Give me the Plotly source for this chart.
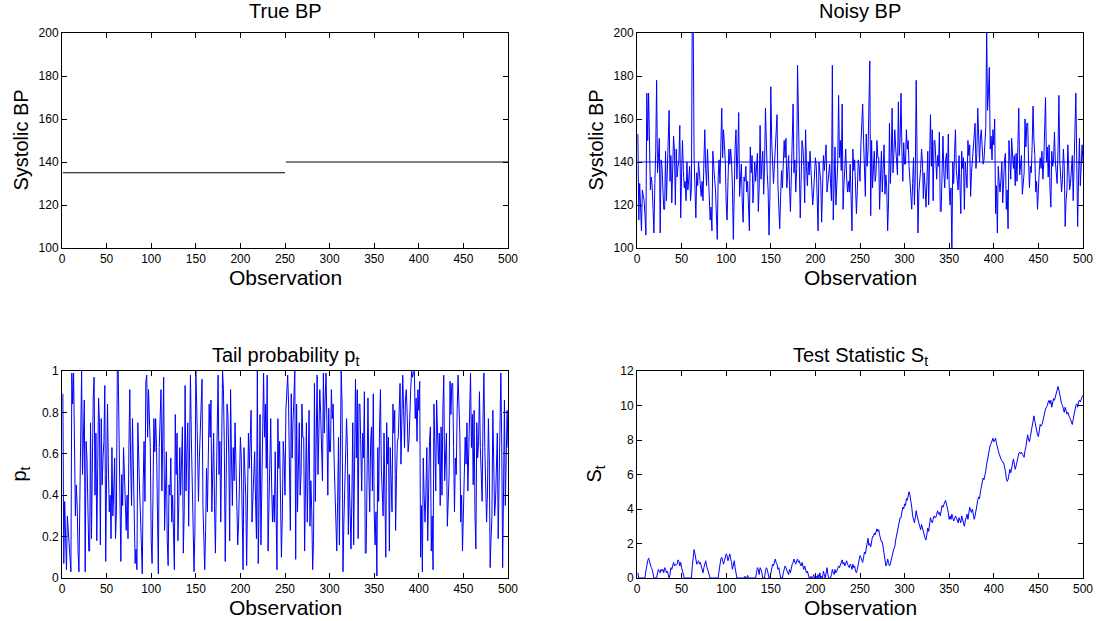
import plotly.graph_objects as go

# ---------------- data ----------------
obs = list(range(1, 501))

# true systolic BP: level before and after the change point
change_point = 250
level_before = 135
level_after = 140

# reference level drawn over the noisy readings
ref_level = 140

noisy_bp = [
    153, 113, 130, 119, 108, 127, 124, 122, 115, 106,
    172, 150, 172, 134, 127, 133, 129, 118, 107, 130,
    145, 178, 135, 142, 151, 107, 141, 138, 129, 118,
    118, 145, 122, 140, 152, 164, 131, 143, 121, 136,
    152, 145, 120, 146, 133, 138, 141, 157, 114, 135,
    150, 136, 128, 131, 122, 140, 127, 132, 138, 122,
    128, 213, 206, 142, 126, 114, 135, 129, 140, 133,
    127, 124, 131, 122, 140, 155, 137, 129, 146, 134,
    126, 113, 119, 108, 145, 136, 132, 127, 118, 104,
    133, 141, 130, 160, 165, 142, 155, 148, 140, 121,
    113, 131, 146, 139, 146, 140, 128, 104, 140, 147,
    155, 132, 144, 163, 124, 130, 139, 121, 112, 133,
    131, 138, 126, 131, 119, 108, 147, 135, 143, 121,
    130, 140, 131, 137, 144, 117, 128, 157, 132, 139,
    145, 125, 138, 165, 142, 135, 127, 106, 124, 175,
    150, 141, 130, 138, 145, 151, 162, 129, 118, 109,
    124, 136, 128, 139, 150, 142, 151, 128, 136, 143,
    129, 117, 133, 150, 167, 135, 141, 126, 137, 185,
    155, 140, 114, 132, 150, 147, 138, 121, 155, 138,
    129, 140, 134, 145, 138, 128, 120, 126, 135, 142,
    138, 124, 108, 140, 135, 131, 112, 127, 143, 136,
    141, 148, 126, 131, 137, 139, 130, 122, 185, 113,
    130, 147, 120, 131, 139, 171, 142, 150, 136, 167,
    118, 129, 137, 146, 133, 126, 131, 126, 139, 117,
    108, 146, 136, 141, 129, 116, 127, 141, 138, 131,
    148, 158, 167, 150, 136, 124, 153, 138, 145, 162,
    187, 115, 150, 128, 140, 145, 131, 135, 150, 142,
    142, 118, 133, 145, 126, 137, 148, 125, 134, 128,
    108, 121, 158, 130, 142, 165, 135, 144, 155, 147,
    140, 134, 168, 143, 151, 172, 145, 131, 149, 139,
    139, 155, 146, 150, 138, 131, 124, 118, 130, 142,
    120, 134, 178, 150, 107, 126, 131, 137, 146, 140,
    123, 135, 128, 119, 131, 145, 120, 136, 162, 138,
    155, 122, 150, 150, 141, 132, 143, 138, 154, 117,
    117, 141, 152, 135, 128, 141, 144, 132, 153, 128,
    120, 128, 98, 140, 130, 144, 155, 136, 131, 127,
    143, 130, 116, 145, 137, 142, 118, 140, 133, 128,
    150, 143, 148, 124, 135, 141, 142, 151, 158, 137,
    144, 165, 148, 140, 151, 155, 147, 139, 141, 150,
    156, 202, 164, 172, 184, 146, 152, 141, 155, 148,
    160, 116, 129, 107, 138, 131, 126, 132, 140, 121,
    135, 141, 144, 118, 127, 109, 150, 136, 132, 151,
    140, 137, 143, 129, 144, 131, 148, 165, 134, 140,
    143, 125, 131, 135, 160, 147, 158, 158, 140, 128,
    138, 135, 148, 166, 150, 143, 126, 131, 118, 130,
    136, 142, 137, 145, 132, 140, 152, 170, 140, 147,
    133, 148, 127, 119, 145, 138, 141, 154, 140, 132,
    130, 146, 171, 140, 133, 126, 132, 146, 138, 110,
    122, 127, 148, 135, 127, 130, 139, 143, 122, 136,
    151, 172, 140, 110, 132, 151, 129, 139, 148, 140,
]

tail_prob = [
    .89, .07, .37, .14, .04, .30, .23, .19, .09, .03,
    .99, .84, .99, .47, .30, .45, .35, .13, .03, .37,
    .75, 1.0, .50, .68, .86, .03, .66, .58, .35, .13,
    .13, .75, .19, .63, .87, .97, .40, .70, .18, .53,
    .87, .75, .16, .77, .45, .58, .66, .93, .08, .50,
    .84, .53, .32, .40, .19, .63, .30, .42, .58, .19,
    .32, 1.0, 1.0, .68, .27, .08, .50, .35, .63, .45,
    .30, .23, .40, .19, .63, .91, .55, .35, .77, .47,
    .27, .07, .14, .04, .75, .53, .42, .30, .13, .02,
    .45, .66, .37, .95, .98, .68, .91, .81, .63, .18,
    .07, .40, .77, .61, .77, .63, .32, .02, .63, .79,
    .91, .42, .73, .97, .23, .37, .61, .18, .06, .45,
    .40, .58, .27, .40, .14, .04, .79, .50, .70, .18,
    .37, .63, .40, .55, .73, .12, .32, .93, .42, .61,
    .75, .25, .58, .98, .68, .50, .30, .03, .23, 1.0,
    .84, .66, .37, .58, .75, .86, .96, .35, .13, .04,
    .23, .53, .32, .61, .84, .68, .86, .32, .53, .70,
    .35, .12, .45, .84, .98, .50, .66, .27, .55, 1.0,
    .91, .63, .08, .42, .84, .79, .58, .18, .91, .58,
    .35, .63, .47, .75, .58, .32, .16, .27, .50, .68,
    .58, .23, .04, .63, .50, .40, .06, .30, .70, .53,
    .66, .81, .27, .40, .55, .61, .37, .19, 1.0, .07,
    .37, .79, .16, .40, .61, .99, .68, .84, .53, .98,
    .13, .35, .55, .77, .45, .27, .40, .27, .61, .12,
    .04, .77, .53, .66, .35, .10, .30, .66, .58, .40,
    .81, .94, .98, .84, .53, .23, .89, .58, .75, .96,
    1.0, .09, .84, .32, .63, .75, .40, .50, .84, .68,
    .68, .13, .45, .75, .27, .55, .81, .25, .47, .32,
    .04, .18, .94, .37, .68, .98, .50, .73, .91, .79,
    .63, .47, .99, .70, .86, .99, .75, .40, .82, .61,
    .61, .91, .77, .84, .58, .40, .23, .13, .37, .68,
    .16, .47, 1.0, .84, .03, .27, .40, .55, .77, .63,
    .21, .50, .32, .14, .40, .75, .16, .53, .96, .58,
    .91, .19, .84, .84, .66, .42, .70, .58, .90, .12,
    .12, .66, .87, .50, .32, .66, .73, .42, .89, .32,
    .16, .32, .01, .63, .37, .73, .91, .53, .40, .30,
    .70, .37, .10, .75, .55, .68, .13, .63, .45, .32,
    .84, .70, .81, .23, .50, .66, .68, .86, .94, .55,
    .73, .98, .81, .63, .86, .91, .79, .61, .66, .84,
    .92, 1.0, .97, .99, 1.0, .77, .87, .66, .91, .81,
    .95, .10, .35, .03, .58, .40, .27, .42, .63, .18,
    .50, .66, .73, .13, .30, .04, .84, .53, .42, .86,
    .63, .55, .70, .35, .73, .40, .81, .98, .47, .63,
    .70, .25, .40, .50, .95, .79, .94, .94, .63, .32,
    .58, .50, .81, .98, .84, .70, .27, .40, .13, .37,
    .53, .68, .55, .75, .42, .63, .87, .99, .63, .79,
    .45, .81, .30, .14, .75, .58, .66, .90, .63, .42,
    .37, .77, .99, .63, .45, .27, .42, .77, .58, .05,
    .19, .30, .81, .50, .30, .37, .61, .70, .19, .53,
    .86, .99, .63, .05, .42, .86, .35, .61, .81, .63,
]

test_stat = [
    0.3, 0, 0, 0, 0, 0, 0, 0, 0, 0.4,
    0.8, 1.0, 1.15, 0.9, 0.7, 0.6, 0.5, 0.2, 0, 0,
    0, 0, 0.3, 0.5, 0.4, 0.3, 0.5, 0.4, 0.5, 0.3,
    0.6, 0.5, 0.3, 0.4, 0.2, 0, 0.2, 0.6, 0.5, 0.7,
    0.9, 0.7, 0.8, 0.75, 0.8, 1.05, 0.95, 0.7, 0.9, 0.6,
    0.4, 0.2, 0, 0, 0, 0, 0, 0, 0, 0,
    0, 0.7, 1.3, 1.65, 1.4, 1.1, 0.8, 0.9, 1.0, 0.8,
    0.9, 0.7, 0.5, 0.3, 0.6, 0.8, 1.0, 0.7, 0.5, 0.3,
    0.1, 0, 0, 0, 0, 0, 0, 0, 0, 0,
    0, 0.4, 0.8, 1.1, 1.2, 0.9, 0.8, 1.0, 1.2, 1.4,
    1.3, 1.0, 1.2, 1.4, 1.1, 0.9, 0.5, 0.7, 1.0, 0.6,
    0.2, 0, 0, 0, 0, 0, 0, 0, 0, 0,
    0.1, 0, 0, 0.15, 0, 0, 0, 0, 0, 0,
    0, 0, 0, 0.3, 0.6, 0.5, 0.2, 0.6, 0.5, 0.3,
    0, 0, 0, 0.4, 0.6, 0.5, 0.3, 0, 0, 0.3,
    0.6, 0.8, 0.7, 0.9, 1.1, 0.9, 0.8, 0.5, 0.6, 0.3,
    0, 0, 0, 0.3, 0.5, 0.7, 0.6, 0.4, 0.3, 0.2,
    0.5, 0.3, 0.6, 0.8, 0.9, 1.1, 0.9, 0.8, 1.0, 1.1,
    0.9, 1.0, 0.8, 0.7, 0.9, 0.6, 0.5, 0.7, 0.5, 0.3,
    0.4, 0.2, 0, 0, 0.1, 0, 0, 0.2, 0, 0,
    0.1, 0, 0.2, 0, 0.3, 0, 0.1, 0, 0.4, 0.2,
    0, 0.3, 0.6, 0.2, 0, 0, 0, 0.2, 0.5, 0.3,
    0.2, 0.5, 0.3, 0.4, 0.6, 0.7, 0.6, 0.8, 0.9, 1.05,
    0.8, 0.9, 0.7, 0.9, 1.0, 0.8, 0.7, 0.6, 0.8, 0.7,
    0.5, 0.8, 0.6, 0.7, 0.4, 0.3, 0.5, 0.8, 1.0, 1.3,
    1.2, 1.0, 0.9, 1.2, 1.5, 1.4, 1.7, 2.0, 2.3, 1.9,
    2.0, 1.8, 2.2, 2.4, 2.4, 2.6, 2.5, 2.7, 2.85, 2.7,
    2.8, 2.5, 2.3, 2.1, 2.1, 1.8, 1.3, 1.0, 0.7, 0.8,
    1.1, 0.9, 0.7, 0.8, 1.1, 1.3, 1.5, 1.7, 1.8, 2.2,
    2.5, 2.7, 3.0, 3.4, 3.5, 3.5, 3.8, 4.1, 4.0, 4.3,
    4.2, 4.6, 4.5, 4.8, 5.0, 4.8, 4.5, 4.1, 3.6, 3.4,
    3.2, 3.5, 3.9, 3.6, 3.3, 3.2, 3.0, 2.8, 3.1, 2.9,
    2.6, 2.4, 2.3, 2.2, 2.5, 2.9, 2.7, 3.1, 3.5, 3.3,
    3.2, 3.4, 3.6, 3.5, 3.5, 3.7, 3.9, 3.7, 3.8, 3.6,
    4.0, 4.2, 4.1, 4.3, 4.4, 4.5, 4.3, 4.0, 3.8, 3.4,
    3.6, 3.4, 3.7, 3.5, 3.3, 3.4, 3.6, 3.5, 3.3, 3.2,
    3.5, 3.3, 3.2, 3.6, 3.4, 3.2, 3.0, 3.3, 3.5, 3.7,
    3.4, 3.8, 4.1, 3.9, 3.8, 4.0, 3.7, 3.4, 3.6, 4.0,
    4.2, 4.5, 4.7, 4.6, 5.0, 5.3, 5.6, 5.8, 5.7, 5.9,
    6.2, 6.6, 6.9, 7.3, 7.5, 7.7, 7.8, 8.0, 8.1, 7.9,
    8.0, 8.1, 7.8, 7.5, 7.4, 7.2, 7.0, 6.9, 6.8, 6.7,
    6.7, 6.5, 6.2, 5.8, 5.6, 5.7, 6.0, 6.3, 6.1, 6.4,
    6.7, 6.9, 6.6, 6.3, 6.5, 6.8, 7.0, 7.2, 7.3, 7.2,
    7.3, 7.2, 7.1, 7.0, 7.4, 7.6, 8.0, 8.3, 8.0, 7.9,
    8.2, 8.5, 8.8, 9.2, 9.4, 9.1, 8.8, 8.5, 8.3, 8.2,
    8.5, 8.9, 8.8, 8.9, 9.1, 9.4, 9.6, 9.8, 9.9, 10.0,
    10.2, 10.3, 10.1, 10.3, 9.9, 10.2, 10.4, 10.3, 10.5, 10.6,
    10.8, 11.1, 10.9, 10.6, 10.4, 10.1, 10.0, 9.8, 9.6, 9.9,
    9.7, 9.5, 9.6, 9.4, 9.3, 9.2, 9.0, 8.9, 9.2, 9.5,
    9.8, 10.0, 10.1, 9.9, 10.2, 10.3, 10.2, 10.4, 10.5, 10.6,
]

assert len(noisy_bp) == len(obs)
assert len(tail_prob) == len(obs)
assert len(test_stat) == len(obs)

# true BP as two flat pieces, broken at the change point
true_x = [o for o in obs if o <= change_point] + [None] + [o for o in obs if o > change_point]
true_y = ([level_before for o in obs if o <= change_point] + [None]
          + [level_after for o in obs if o > change_point])

# ---------------- figure ----------------
W, H = 1097, 621
FONT = "Liberation Sans, Arial, Helvetica, sans-serif"
BLUE = "#0000ff"

# panel boxes in pixels: (left, right, top, bottom)
boxes = {
    1: (62, 508, 33, 248),
    2: (637, 1083, 33, 248),
    3: (62, 508, 371, 578),
    4: (637, 1083, 371, 578),
}

fig = go.Figure()

fig.add_trace(go.Scatter(x=true_x, y=true_y, mode="lines",
                         line=dict(color="black", width=1),
                         xaxis="x", yaxis="y", showlegend=False))
fig.add_trace(go.Scatter(x=obs, y=noisy_bp, mode="lines",
                         line=dict(color=BLUE, width=1),
                         xaxis="x2", yaxis="y2", showlegend=False))
fig.add_trace(go.Scatter(x=[obs[0], obs[-1]], y=[ref_level, ref_level], mode="lines",
                         line=dict(color=BLUE, width=1),
                         xaxis="x2", yaxis="y2", showlegend=False))
fig.add_trace(go.Scatter(x=obs, y=tail_prob, mode="lines",
                         line=dict(color=BLUE, width=1),
                         xaxis="x3", yaxis="y3", showlegend=False))
fig.add_trace(go.Scatter(x=obs, y=test_stat, mode="lines",
                         line=dict(color=BLUE, width=1),
                         xaxis="x4", yaxis="y4", showlegend=False))

yranges = {1: (100, 200, 20), 2: (100, 200, 20), 3: (0, 1, 0.2), 4: (0, 12, 2)}

layout = dict(
    width=W, height=H, autosize=False,
    margin=dict(l=0, r=0, t=0, b=0, pad=0, autoexpand=False),
    paper_bgcolor="white", plot_bgcolor="white",
    font=dict(family=FONT, color="black", size=12),
)

axis_common = dict(
    showline=True, linecolor="black", linewidth=1, mirror="ticks",
    ticks="inside", ticklen=5, tickwidth=1, tickcolor="black",
    showgrid=False, zeroline=False, automargin=False,
    tickfont=dict(family=FONT, size=12, color="black"),
)

for i, (l, r, t, b) in boxes.items():
    sfx = "" if i == 1 else str(i)
    lo, hi, dt = yranges[i]
    layout["xaxis" + sfx] = dict(
        axis_common, domain=[l / W, r / W], range=[0, 500],
        tick0=0, dtick=50, anchor="y" + sfx,
    )
    layout["yaxis" + sfx] = dict(
        axis_common, domain=[1 - b / H, 1 - t / H], range=[lo, hi],
        tick0=lo, dtick=dt, anchor="x" + sfx,
    )

layout["yaxis3"]["tickformat"] = "~g"

titles = ["True BP", "Noisy BP", "Tail probability p<sub>t</sub>", "Test Statistic S<sub>t</sub>"]
title_bottom = [24, 24, 371, 371]
ylabels = ["Systolic BP", "Systolic BP", "p<sub>t</sub>", "S<sub>t</sub>"]

annotations = []
for i, (l, r, t, b) in boxes.items():
    cx = (l + r) / 2 / W
    annotations.append(dict(
        text=titles[i - 1], x=cx, y=1 - title_bottom[i - 1] / H, xref="paper", yref="paper",
        xanchor="center", yanchor="bottom", showarrow=False,
        font=dict(family=FONT, size=20, color="black"),
    ))
    annotations.append(dict(
        text="Observation", x=cx, y=1 - (b + 16) / H, xref="paper", yref="paper",
        xanchor="center", yanchor="top", showarrow=False,
        font=dict(family=FONT, size=21, color="black"),
    ))
    annotations.append(dict(
        text=ylabels[i - 1], x=(l - 42) / W, y=1 - (t + b) / 2 / H, xref="paper", yref="paper",
        xanchor="center", yanchor="middle", showarrow=False, textangle=-90,
        font=dict(family=FONT, size=20, color="black"),
    ))
layout["annotations"] = annotations

fig.update_layout(**layout)
fig.write_html("out.html")
